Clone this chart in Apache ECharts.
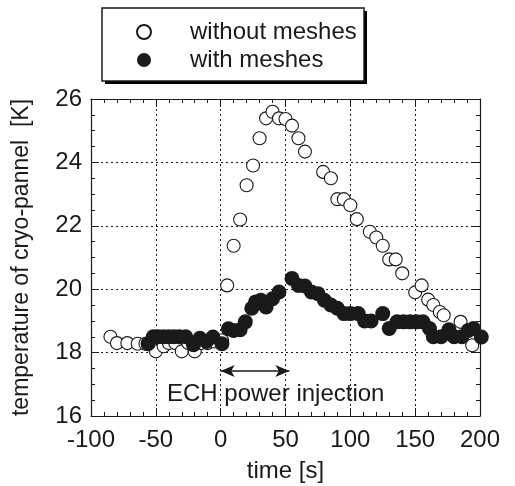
<!DOCTYPE html>
<html>
<head>
<meta charset="utf-8">
<script src="https://cdn.jsdelivr.net/npm/echarts@6/dist/echarts.min.js"></script>
<style>
  html, body { margin: 0; padding: 0; background: #fff; }
  #chart { width: 515px; height: 486px; }
</style>
</head>
<body>
<div id="chart"></div>
<script>
// temperature of cryo-pannel vs time
const withoutMeshes = [
  [-85, 18.5], [-80, 18.3], [-72, 18.3], [-64, 18.28], [-58, 18.28], [-50, 18.04],
  [-44, 18.2], [-40, 18.3], [-35, 18.3], [-30, 18.04], [-25, 18.3], [-20, 18.04],
  [-15, 18.3], [-10, 18.3], [-5, 18.35], [1, 18.39],
  [5, 20.12], [10, 21.37], [15, 22.2], [20, 23.28], [25, 23.9], [30, 24.76],
  [35, 25.39], [40, 25.6], [45, 25.39], [50, 25.37], [55, 25.16], [60, 24.76],
  [65, 24.34], [79, 23.7], [85, 23.5], [90, 22.84], [95, 22.84], [100, 22.65],
  [105, 22.21], [115, 21.81], [120, 21.63], [125, 21.37], [130, 20.94], [135, 20.94],
  [140, 20.5], [150, 19.9], [155, 20.12], [160, 19.67], [164, 19.5], [169, 19.28],
  [172, 19.18], [185, 18.97], [194, 18.23]
]
const withMeshes = [
  [-56, 18.28], [-52, 18.5], [-48, 18.5], [-44, 18.5], [-40, 18.5], [-36, 18.5],
  [-32, 18.5], [-27, 18.5], [-21, 18.25], [-16, 18.45], [-11, 18.35], [-6, 18.49],
  [1, 18.28], [6, 18.75], [10, 18.7], [15, 18.72], [19, 18.97], [24, 19.4],
  [27, 19.6], [31, 19.65], [35, 19.44], [40, 19.7], [45, 19.91], [55, 20.34],
  [60, 20.12], [65, 20.1], [70, 19.91], [75, 19.86], [80, 19.65], [85, 19.5],
  [90, 19.4], [95, 19.23], [100, 19.23], [106, 19.23], [111, 19.0], [116, 19.0],
  [125, 19.23], [130, 18.76], [136, 18.97], [141, 18.97], [146, 18.97], [151, 18.97],
  [156, 18.97], [161, 18.76], [164, 18.5], [170, 18.5], [176, 18.72], [180, 18.5],
  [186, 18.5], [191, 18.7], [195, 18.76], [201, 18.49]
]
// ECH power injection arrow (time range, level)
const injection = [0, 53]
const injectionLevel = 17.42

const font = 'Liberation Sans, Arial, sans-serif'
const ink = '#1a1a1a'

const frameAxis = (pos) => ({
  position: pos,
  axisLine: { show: true, onZero: false, lineStyle: { color: ink, width: 1.2 } },
  axisTick: { show: true, inside: true, length: 8, lineStyle: { color: ink } },
  minorTick: { show: true, length: 4, lineStyle: { color: ink } },
  axisLabel: { show: false },
  splitLine: { show: false }
})

const chart = echarts.init(document.getElementById('chart'))
chart.setOption({
  animation: false,
  grid: { left: 91, right: 35, top: 99, bottom: 70, outerBoundsMode: 'none' },
  legend: {
    orient: 'vertical',
    left: 102,
    top: 8,
    padding: [12, 8, 9, 34],
    itemWidth: 14,
    itemHeight: 14,
    itemGap: 4,
    textStyle: { fontFamily: font, fontSize: 24, color: ink, padding: [0, 0, 0, 34] },
    data: ['without meshes', 'with meshes']
  },
  xAxis: [
    {
      type: 'value', min: -100, max: 200, interval: 50,
      name: 'time [s]', nameLocation: 'middle', nameGap: 43,
      nameTextStyle: { fontFamily: font, fontSize: 24, color: ink },
      axisLine: { show: true, onZero: false, lineStyle: { color: ink, width: 1.2 } },
      axisTick: { show: true, inside: true, length: 8, lineStyle: { color: ink } },
      minorTick: { show: true, splitNumber: 5, length: 4, lineStyle: { color: ink } },
      axisLabel: { margin: 12, fontFamily: font, fontSize: 24, color: ink },
      splitLine: { show: true, lineStyle: { color: ink, type: [2, 3], width: 1 } }
    },
    Object.assign(frameAxis('top'), {
      type: 'value', min: -100, max: 200, interval: 50,
      minorTick: { show: true, splitNumber: 5, length: 4, lineStyle: { color: ink } }
    })
  ],
  yAxis: [
    {
      type: 'value', min: 16, max: 26, interval: 2,
      name: 'temperature of cryo-pannel  [K]', nameLocation: 'middle', nameGap: 58,
      nameTextStyle: { fontFamily: font, fontSize: 23, color: ink },
      axisLine: { show: true, onZero: false, lineStyle: { color: ink, width: 1.2 } },
      axisTick: { show: true, inside: true, length: 8, lineStyle: { color: ink } },
      minorTick: { show: true, splitNumber: 4, length: 4, lineStyle: { color: ink } },
      axisLabel: { margin: 9, fontFamily: font, fontSize: 24, color: ink },
      splitLine: { show: true, lineStyle: { color: ink, type: [2, 3], width: 1 } }
    },
    Object.assign(frameAxis('right'), {
      type: 'value', min: 16, max: 26, interval: 2,
      minorTick: { show: true, splitNumber: 4, length: 4, lineStyle: { color: ink } }
    })
  ],
  series: [
    {
      name: 'without meshes',
      type: 'scatter',
      clip: false,
      symbol: 'circle',
      symbolSize: 13,
      itemStyle: { color: '#fff', opacity: 1, borderColor: ink, borderWidth: 1.1 },
      data: withoutMeshes,
      z: 3
    },
    {
      name: 'with meshes',
      type: 'scatter',
      clip: false,
      symbol: 'circle',
      symbolSize: 15,
      itemStyle: { color: ink, opacity: 1, borderWidth: 0 },
      data: withMeshes,
      z: 4,
      markLine: {
        silent: true,
        symbol: ['arrow', 'arrow'],
        symbolSize: [9, 14],
        label: { show: false },
        lineStyle: { color: ink, width: 1.5, type: 'solid' },
        data: [[
          { coord: [injection[0], injectionLevel] },
          { coord: [injection[1], injectionLevel] }
        ]]
      }
    }
  ],
  graphic: [
    // legend frame with its drop shadow
    {
      type: 'rect', z: -2,
      shape: { x: 105, y: 11, width: 262, height: 73 },
      style: { fill: '#000' }
    },
    {
      type: 'rect', z: -1,
      shape: { x: 102, y: 8, width: 262, height: 73 },
      style: { fill: '#fff', stroke: ink, lineWidth: 1.5 }
    },
    {
      type: 'text',
      left: 167,
      top: 382,
      style: { text: 'ECH power injection', fontFamily: font, fontSize: 24, fill: ink }
    }
  ]
})
</script>
</body>
</html>
